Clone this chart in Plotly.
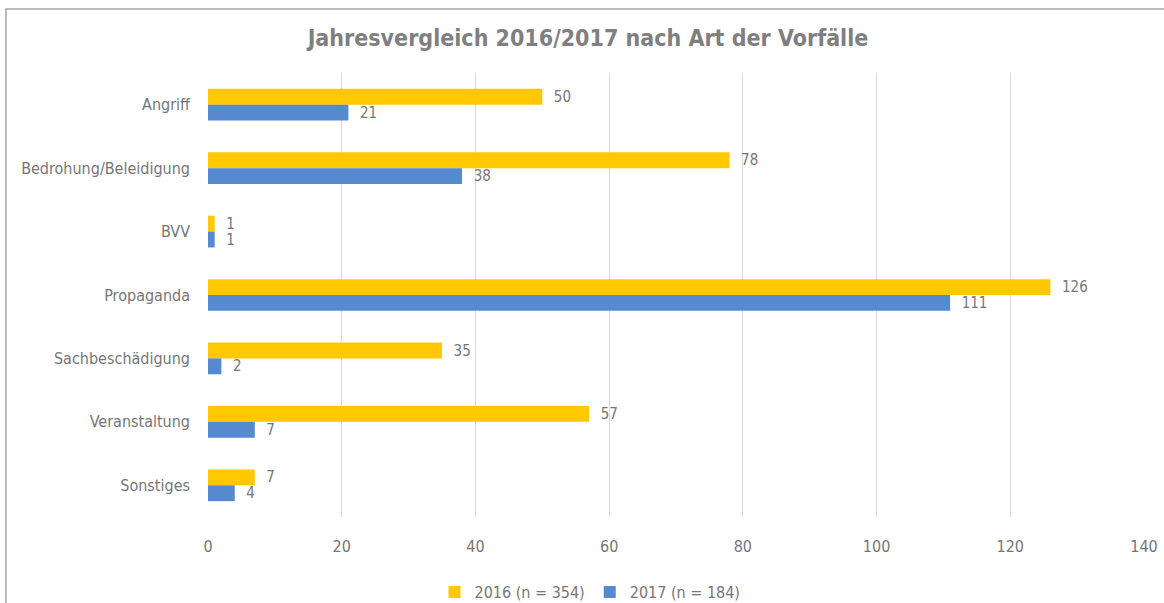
import plotly.graph_objects as go

categories = ["Angriff", "Bedrohung/Beleidigung", "BVV", "Propaganda",
              "Sachbeschädigung", "Veranstaltung", "Sonstiges"]
values_2016 = [50, 78, 1, 126, 35, 57, 7]
values_2017 = [21, 38, 1, 111, 2, 7, 4]
name_2016 = "2016 (n = 354)"
name_2017 = "2017 (n = 184)"
x_ticks = [0, 20, 40, 60, 80, 100, 120, 140]
title_text = "Jahresvergleich 2016/2017 nach Art der Vorfälle"

FONT = "DejaVu Sans Condensed, Liberation Sans Narrow, sans-serif"
GRAY = "#767676"

fig = go.Figure()
fig.add_trace(go.Bar(
    y=categories, x=values_2016, name=name_2016, orientation="h",
    marker=dict(color="#FFC800", line=dict(width=0)),
    text=[f"  {v}" for v in values_2016], textposition="outside",
    constraintext="none",
    textfont=dict(color=GRAY, size=15, family=FONT), cliponaxis=False,
))
fig.add_trace(go.Bar(
    y=categories, x=values_2017, name=name_2017, orientation="h",
    marker=dict(color="#558AD0", line=dict(width=0)),
    text=[f"  {v}" for v in values_2017], textposition="outside",
    constraintext="none",
    textfont=dict(color=GRAY, size=15, family=FONT), cliponaxis=False,
))

W, H = 1164, 603
L, R, T, B = 208, 20, 73, 86
pw = W - L - R
ph = H - T - B

def px_x(x):
    return (x - L) / pw

def px_y(y):
    return (H - B - y) / ph

fig.update_layout(
    width=W, height=H,
    margin=dict(l=L, r=R, t=T, b=B, autoexpand=False),
    paper_bgcolor="white", plot_bgcolor="white",
    barmode="group", bargap=0.5, bargroupgap=0,
    font=dict(family=FONT, color=GRAY, size=16),
    title=dict(text=f"<b>{title_text}</b>", x=px_x(588), xref="paper",
               xanchor="center", y=1 - 38 / H, yanchor="middle",
               font=dict(size=23, color="#7F7F7F", family=FONT)),
    xaxis=dict(range=[0, 140], tickvals=x_ticks, showgrid=True,
               gridcolor="#D9D9D9", gridwidth=1, zeroline=False,
               showline=False, ticks="", tickfont=dict(size=16, color=GRAY),
               ticklabelstandoff=18, automargin=False),
    yaxis=dict(autorange="reversed", showgrid=False, showline=False,
               ticks="", tickfont=dict(size=16, color=GRAY),
               ticklabelstandoff=17, automargin=False),
    legend=dict(orientation="h", x=px_x(590), xanchor="center",
                y=px_y(592), yanchor="middle", font=dict(size=16, color=GRAY),
                itemwidth=30, traceorder="normal"),
    shapes=[
        dict(type="rect", xref="paper", yref="paper",
             x0=px_x(6), x1=px_x(1200), y0=px_y(640), y1=px_y(9),
             line=dict(color="#A6A6A6", width=1.5), fillcolor="rgba(0,0,0,0)",
             layer="below"),
    ],
)

fig.write_html("out.html", config={"displayModeBar": False},
               post_script="document.body.style.margin='0';document.body.style.overflow='hidden';")
